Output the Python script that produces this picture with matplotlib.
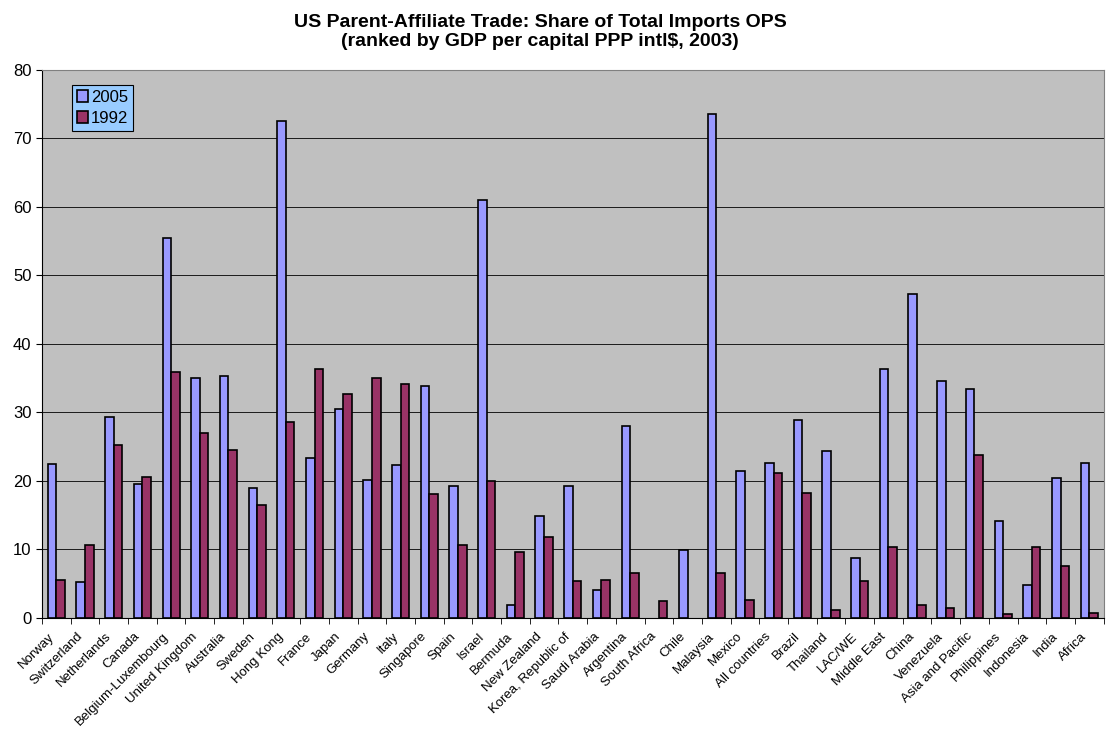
import matplotlib
matplotlib.use('Agg')
import matplotlib.pyplot as plt
import numpy as np

plt.rcParams['font.family'] = ['Liberation Sans', 'DejaVu Sans']

countries = ['Norway', 'Switzerland', 'Netherlands', 'Canada', 'Belgium-Luxembourg',
             'United Kingdom', 'Australia', 'Sweden', 'Hong Kong', 'France', 'Japan',
             'Germany', 'Italy', 'Singapore', 'Spain', 'Israel', 'Bermuda', 'New Zealand',
             'Korea, Republic of', 'Saudi Arabia', 'Argentina', 'South Africa', 'Chile',
             'Malaysia', 'Mexico', 'All countries', 'Brazil', 'Thailand', 'LAC/WE',
             'Middle East', 'China', 'Venezuela', 'Asia and Pacific', 'Philippines',
             'Indonesia', 'India', 'Africa']

share_2005 = [22.5, 5.2, 29.3, 19.5, 55.4, 35.0, 35.3, 19.0, 72.5, 23.3, 30.5,
              20.1, 22.3, 33.8, 19.3, 61.0, 1.9, 14.9, 19.3, 4.1, 28.0, 0.0, 9.9,
              73.6, 21.4, 22.6, 28.9, 24.4, 8.7, 36.4, 47.3, 34.6, 33.4, 14.2,
              4.8, 20.5, 22.6]

share_1992 = [5.6, 10.6, 25.2, 20.6, 35.9, 27.0, 24.5, 16.5, 28.6, 36.4, 32.7,
              35.1, 34.1, 18.1, 10.6, 20.0, 9.6, 11.8, 5.4, 5.5, 6.5, 2.4, 0.0,
              6.6, 2.6, 21.2, 18.3, 1.2, 5.4, 10.3, 1.9, 1.4, 23.8, 0.5,
              10.3, 7.6, 0.7]

fig = plt.figure(figsize=(11.17, 7.33), dpi=100)
ax = fig.add_axes([0.0376, 0.157, 0.9504, 0.7475])
ax.set_facecolor('#C0C0C0')

x = np.arange(len(countries))
w = 0.3
# no outline on empty bars (Excel draws nothing there)
lw05 = [1.2 if v > 0 else 0 for v in share_2005]
lw92 = [1.2 if v > 0 else 0 for v in share_1992]
ax.bar(x - w / 2, share_2005, w, color='#9999FF', edgecolor='black', linewidth=lw05,
       label='2005', zorder=3)
ax.bar(x + w / 2, share_1992, w, color='#993366', edgecolor='black', linewidth=lw92,
       label='1992', zorder=3)

ax.set_xlim(-0.5, len(countries) - 0.5)
ax.set_ylim(0, 80)
ax.set_yticks(range(0, 81, 10))
ax.yaxis.grid(True, color='black', linewidth=0.6, zorder=1)
ax.tick_params(axis='y', labelsize=12, length=4, direction='out')

ax.set_xticks(x)
ax.set_xticklabels(countries, rotation=45, ha='right', va='top', fontsize=9.5)
ax.tick_params(axis='x', which='major', length=0, pad=9)
ax.set_xticks(np.arange(-0.5, len(countries)), minor=True)
ax.tick_params(axis='x', which='minor', length=4, direction='out')

for s in ['top', 'right']:
    ax.spines[s].set_color('#808080')

ax.set_title('US Parent-Affiliate Trade: Share of Total Imports OPS\n'
             '(ranked by GDP per capital PPP intl$, 2003)',
             fontsize=14, fontweight='bold', pad=17, linespacing=1.2, x=0.469)

leg = ax.legend(loc='upper left', bbox_to_anchor=(0.028, 0.973), fontsize=12,
                frameon=True, fancybox=False, edgecolor='black', facecolor='#99CCFF',
                handlelength=0.7, handleheight=0.7, handletextpad=0.15,
                borderpad=0.3, labelspacing=0.35, borderaxespad=0)
leg.get_frame().set_linewidth(0.8)
leg.get_frame().set_alpha(1)

fig.savefig('out.png', dpi=100)
